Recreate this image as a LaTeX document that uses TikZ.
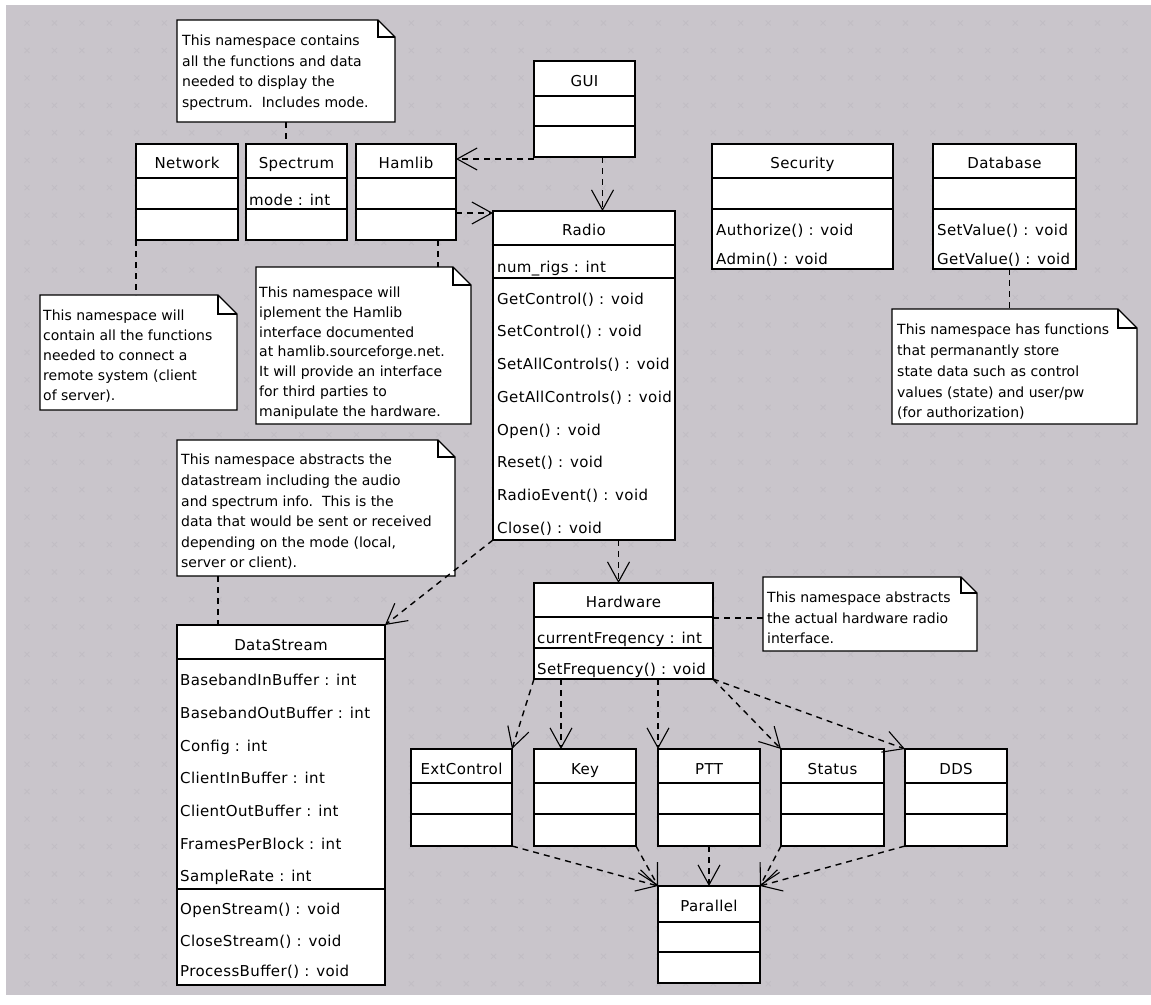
\documentclass[tikz,border=0pt]{standalone}
\usepackage{fontspec}
\setmainfont{DejaVu Sans}
\newfontfamily\clsface[LetterSpace=2.5]{DejaVu Sans}
\usetikzlibrary{arrows.meta}
\definecolor{bgc}{RGB}{201,197,203}
\definecolor{gridc}{RGB}{193,189,196}
\newcommand\clsfont{\clsface\fontsize{15}{18}\selectfont}
\newcommand\umlbox[7]{%
  \node[clsbox, minimum width={#4-#2}, minimum height={#5-#3}, anchor=north west] (#1) at (#2,#3) {};
  \draw[sepl] (#2,#6) -- (#4,#6);
  \draw[sepl] (#2,#7) -- (#4,#7);
}
\newcommand\umlnote[6]{%
  \node[notebg, minimum width={#4-#2}, minimum height={#5-#3}, anchor=north west] (#1) at (#2,#3) {};
  \draw[notel, fill=white] (#1.south west) -- (#1.north west) -- ([xshift=-#6pt]#1.north east)
      -- ([yshift=-#6pt]#1.north east) -- (#1.south east) -- cycle;
  \draw[notel] ([xshift=-#6pt]#1.north east) |- ([yshift=-#6pt]#1.north east);
}
\tikzset{
  clsbox/.style={draw=black, fill=white, line width=1.6pt, inner sep=0pt, outer sep=0pt},
  sepl/.style={line width=1.4pt},
  hdr/.style={font=\clsfont, inner sep=0pt, anchor=base},
  rowt/.style={font=\clsfont, inner sep=0pt, anchor=base west},
  notebg/.style={inner sep=0pt, outer sep=0pt},
  notel/.style={line width=1.4pt, line join=miter},
  ntext/.style={inner sep=0pt, anchor=north west, align=left, font={\fontsize{14}{#1}\selectfont}},
  dep/.style={line width=1.4pt, dash pattern=on 6pt off 5pt,
     -{Straight Barb[length=20pt,width=22pt,line width=1.1pt]}},
  anch/.style={line width=1.4pt, dash pattern=on 6pt off 5pt},
}
\begin{document}
\begin{tikzpicture}[x=1pt,y=-1pt]
\useasboundingbox (0,0) rectangle (1151,1004);
\fill[white] (0,0) rectangle (1151,1004);
\fill[bgc] (6,5) rectangle (1151,995);
\foreach \i in {0,...,40} {\foreach \j in {0,...,35} {
  \draw[gridc, line width=0.9pt] ({24.5+27.45*\i},{20.5+27.45*\j}) -- ++(5,5)
     ({24.5+27.45*\i},{25.5+27.45*\j}) -- ++(5,-5);}}

% ---------- classes ----------
\umlbox{network}{136}{144}{238}{240}{178}{209}
\node[hdr] (network-h) at (187,168) {Network};
\umlbox{spectrum}{246}{144}{347}{240}{178}{209}
\node[hdr] (spectrum-h) at (296.5,168) {Spectrum};
\node[rowt] (spectrum-a) at (249,205) {mode : int};
\umlbox{hamlib}{356}{144}{456}{240}{178}{209}
\node[hdr] (hamlib-h) at (406,168) {Hamlib};
\umlbox{gui}{534}{61}{635}{157}{96}{126}
\node[hdr] (gui-h) at (584.5,86) {GUI};

\umlbox{radio}{493}{211}{675}{540}{245}{278}
\node[hdr] (radio-h) at (584,235) {Radio};
\node[rowt] (radio-a) at (497,272) {num\_rigs : int};
\node[rowt] (radio-m1) at (497,304) {GetControl() : void};
\node[rowt] (radio-m2) at (497,336.75) {SetControl() : void};
\node[rowt] (radio-m3) at (497,369.5) {SetAllControls() : void};
\node[rowt] (radio-m4) at (497,402.25) {GetAllControls() : void};
\node[rowt] (radio-m5) at (497,435) {Open() : void};
\node[rowt] (radio-m6) at (497,467.75) {Reset() : void};
\node[rowt] (radio-m7) at (497,500.5) {RadioEvent() : void};
\node[rowt] (radio-m8) at (497,533.25) {Close() : void};

\umlbox{security}{712}{144}{893}{269}{178}{209}
\node[hdr] (security-h) at (802.5,168) {Security};
\node[rowt] (security-m1) at (716,235) {Authorize() : void};
\node[rowt] (security-m2) at (716,264) {Admin() : void};

\umlbox{database}{933}{144}{1076}{269}{178}{209}
\node[hdr] (database-h) at (1004.5,168) {Database};
\node[rowt] (database-m1) at (937,235) {SetValue() : void};
\node[rowt] (database-m2) at (937,264) {GetValue() : void};

\umlbox{datastream}{177}{625}{385}{985}{659}{889}
\node[hdr] (datastream-h) at (281,650) {DataStream};
\node[rowt] (ds-a1) at (180,685) {BasebandInBuffer : int};
\node[rowt] (ds-a2) at (180,718) {BasebandOutBuffer : int};
\node[rowt] (ds-a3) at (180,751) {Config : int};
\node[rowt] (ds-a4) at (180,783) {ClientInBuffer : int};
\node[rowt] (ds-a5) at (180,816) {ClientOutBuffer : int};
\node[rowt] (ds-a6) at (180,849) {FramesPerBlock : int};
\node[rowt] (ds-a7) at (180,881) {SampleRate : int};
\node[rowt] (ds-m1) at (180,914) {OpenStream() : void};
\node[rowt] (ds-m2) at (180,946) {CloseStream() : void};
\node[rowt] (ds-m3) at (180,976) {ProcessBuffer() : void};

\umlbox{hardware}{534}{583}{713}{679}{617}{648}
\node[hdr] (hardware-h) at (623.5,607) {Hardware};
\node[rowt] (hardware-a) at (537,643) {currentFreqency : int};
\node[rowt] (hardware-m) at (537,674) {SetFrequency() : void};

\umlbox{extcontrol}{411}{749}{512}{846}{783}{814}
\node[hdr] (extcontrol-h) at (461.5,774) {ExtControl};
\umlbox{key}{534}{749}{636}{846}{783}{814}
\node[hdr] (key-h) at (585,774) {Key};
\umlbox{ptt}{658}{749}{760}{846}{783}{814}
\node[hdr] (ptt-h) at (709,774) {PTT};
\umlbox{status}{781}{749}{884}{846}{783}{814}
\node[hdr] (status-h) at (832.5,774) {Status};
\umlbox{dds}{905}{749}{1007}{846}{783}{814}
\node[hdr] (dds-h) at (956,774) {DDS};
\umlbox{parallel}{658}{886}{760}{983}{922}{952}
\node[hdr] (parallel-h) at (709,911) {Parallel};

% ---------- notes ----------
\umlnote{n1}{177}{20}{395}{122}{17}
\node[ntext=20.5] (n1-t) at (182,35) {This namespace contains\\all the functions and data\\needed to display the\\spectrum.\ \ Includes mode.};
\umlnote{n2}{40}{295}{237}{410}{19}
\node[ntext=20] (n2-t) at (43,310) {This namespace will\\contain all the functions\\needed to connect a\\remote system (client\\of server).};
\umlnote{n3}{256}{267}{471}{424}{18}
\node[ntext=19.7] (n3-t) at (259,287) {This namespace will\\iplement the Hamlib\\interface documented\\at hamlib.sourceforge.net.\\It will provide an interface\\for third parties to\\manipulate the hardware.};
\umlnote{n4}{177}{440}{455}{576}{17}
\node[ntext=20.6] (n4-t) at (181,454) {This namespace abstracts the\\datastream including the audio\\and spectrum info.\ \ This is the\\data that would be sent or received\\depending on the mode (local,\\server or client).};
\umlnote{n5}{892}{309}{1137}{424}{19}
\node[ntext=20.75] (n5-t) at (897,324) {This namespace has functions\\that permanantly store\\state data such as control\\values (state) and user/pw\\(for authorization)};
\umlnote{n6}{763}{577}{977}{651}{16}
\node[ntext=20.5] (n6-t) at (767,592) {This namespace abstracts\\the actual hardware radio\\interface.};

% ---------- note anchors ----------
\draw[anch] (n1.south) -- (n1.south |- spectrum.north);
\draw[anch] (network.south west) -- (network.south west |- n2.north);
\draw[anch] ([xshift=-18pt]hamlib.south east) -- ([xshift=-18pt]hamlib.south east |- n3.north);
\draw[anch] ([xshift=41pt]datastream.north west |- n4.south) -- ([xshift=41pt]datastream.north west);
\draw[anch] ([xshift=5pt]database.south) -- ([xshift=5pt]database.south |- n5.north);
\draw[anch] ([yshift=-4pt]n6.west -| hardware.east) -- ([yshift=-4pt]n6.west);

% ---------- dependencies ----------
\draw[dep] ([yshift=-2pt]gui.south west) -- ([yshift=-2pt]gui.south west -| hamlib.east);
\draw[dep] ([xshift=18pt]gui.south) -- ([xshift=18pt]gui.south |- radio.north);
\draw[dep] ([yshift=-2pt]radio.north west -| hamlib.east) -- ([yshift=-2pt]radio.north west);
\draw[dep] (radio.south west) -- (datastream.north east);
\draw[dep] ([xshift=-5pt]hardware.north |- radio.south) -- ([xshift=-5pt]hardware.north);
\draw[dep] (hardware.south west) -- (extcontrol.north east);
\draw[dep] ([xshift=27pt]key.north west |- hardware.south) -- ([xshift=27pt]key.north west);
\draw[dep] (ptt.north west |- hardware.south) -- (ptt.north west);
\draw[dep] (hardware.south east) -- (status.north west);
\draw[dep] (hardware.south east) -- (dds.north west);
\draw[dep] (extcontrol.south east) -- (parallel.north west);
\draw[dep] (key.south east) -- (parallel.north west);
\draw[dep] (ptt.south) -- (parallel.north);
\draw[dep] (status.south west) -- (parallel.north east);
\draw[dep] (dds.south west) -- (parallel.north east);
\end{tikzpicture}
\end{document}
